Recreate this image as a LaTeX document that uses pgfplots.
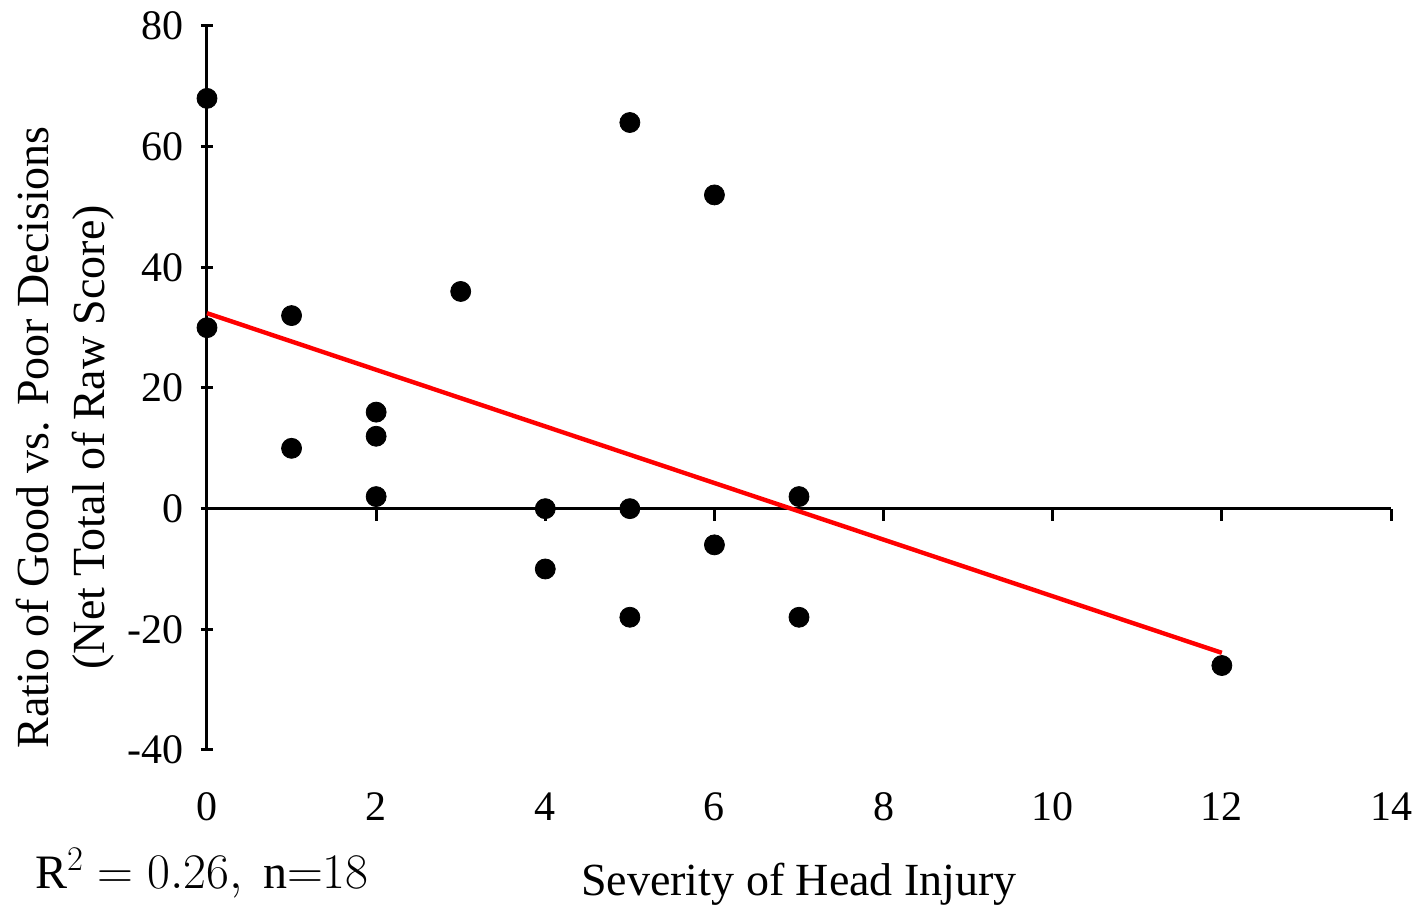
\documentclass[border=0pt]{standalone}
\usepackage{pgfplots}
\pgfplotsset{compat=1.18}
\usepackage{fontspec}
\setmainfont{Liberation Serif}
\begin{document}
\begin{tikzpicture}
\pgfplotsset{
  common/.style={
    scale only axis, width=592pt, height=362pt,
    xmin=0, xmax=14, ymin=-40, ymax=80,
    xtick={0,2,...,14}, ytick={-40,-20,...,80},
    axis line style={line width=1.5pt},
    tick style={line width=1.5pt, black},
    major tick length=6pt,
    tick align=outside,
    clip=false,
  },
  noarrows/.style={
    every inner x axis line/.append style={-},
    every outer x axis line/.append style={-},
    every inner y axis line/.append style={-},
    every outer y axis line/.append style={-},
  },
}
% horizontal zero line with its downward tick marks
\begin{axis}[common,
  axis x line=middle, axis y line=none, noarrows,
  xticklabels={}, ytick=\empty,
  xtick style={yshift=-3pt},
]
\end{axis}
% main axis: left scale, bottom labels, data and trend line
\begin{axis}[common, name=ax,
  axis y line=left, axis x line=bottom, noarrows,
  x axis line style={draw=none},
  xtick style={draw=none},
  /pgf/number format/assume math mode=true,
  tick label style={font=\fontsize{21}{25}\selectfont},
  xticklabel shift=15pt,
  yticklabel shift=5pt,
  xlabel={Severity of Head Injury},
  xlabel style={font=\fontsize{23}{27}\selectfont, yshift=-14pt},
  ylabel={Ratio of Good vs. Poor Decisions\\(Net Total of Raw Score)},
  ylabel style={font=\fontsize{23}{28}\selectfont, align=center,
    at={(ticklabel cs:0.432)}},
]
\addplot[only marks, mark=*, mark size=5pt, black] coordinates {
  (0,68) (0,30) (1,32) (1,10) (2,16) (2,12) (2,2) (3,36) (4,0)
  (4,-10) (5,64) (5,0) (5,-18) (6,52) (6,-6) (7,2) (7,-18) (12,-26)
};
% least-squares fit: y = 32.4 - 4.69 x
\addplot[red, line width=2.2pt] coordinates {(0,32.4) (12,-23.9)};
\node[anchor=west, font=\fontsize{24}{28}\selectfont] at ([xshift=-89.5pt, yshift=-61.5pt]rel axis cs:0,0)
  {$\mathrm{R}^2 = 0.26,\ \mathrm{n}{=}18$};
\end{axis}
\pgfresetboundingbox
\path[use as bounding box] ([shift={(-103.5pt,-79.5pt)}]ax.south west) rectangle ([shift={(11.5pt,13pt)}]ax.north east);
\end{tikzpicture}
\end{document}
